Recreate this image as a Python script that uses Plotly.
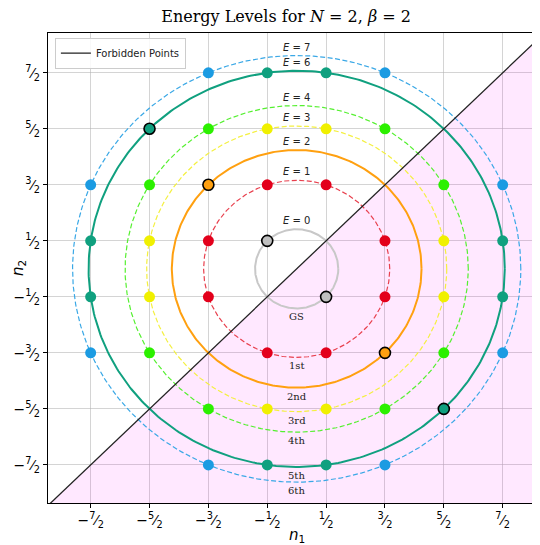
import numpy as np
import plotly.graph_objects as go

# energy levels (N=2, beta=2), radius^2 = 2E + 1/2
energies = [0, 1, 2, 3, 4, 6, 7]
state_names = ['GS', '1st', '2nd', '3rd', '4th', '5th', '6th']
point_colors = ['#c0c0c0', '#e3001b', '#ffa010', '#f0f000', '#2cf000', '#10a07f', '#1b9be2']
line_colors = ['#c8c8c8', '#e8404e', '#ffa010', '#f4f040', '#55f030', '#10a07f', '#3aa8e6']
line_dash = ['solid', 'dash', 'solid', 'dash', 'dash', 'solid', 'dash']
line_width = [2, 1.2, 2, 1.2, 1.2, 2, 1.2]

# allowed states (n1, n2) for each level
states = {
    0: [(-0.5, 0.5), (0.5, -0.5)],
    1: [(0.5, 1.5), (-0.5, 1.5), (0.5, -1.5), (-0.5, -1.5),
        (1.5, 0.5), (-1.5, 0.5), (1.5, -0.5), (-1.5, -0.5)],
    2: [(-1.5, 1.5), (1.5, -1.5)],
    3: [(0.5, 2.5), (-0.5, 2.5), (0.5, -2.5), (-0.5, -2.5),
        (2.5, 0.5), (-2.5, 0.5), (2.5, -0.5), (-2.5, -0.5)],
    4: [(1.5, 2.5), (-1.5, 2.5), (1.5, -2.5), (-1.5, -2.5),
        (2.5, 1.5), (-2.5, 1.5), (2.5, -1.5), (-2.5, -1.5)],
    6: [(0.5, 3.5), (-0.5, 3.5), (0.5, -3.5), (-0.5, -3.5),
        (3.5, 0.5), (-3.5, 0.5), (3.5, -0.5), (-3.5, -0.5),
        (-2.5, 2.5), (2.5, -2.5)],
    7: [(1.5, 3.5), (-1.5, 3.5), (1.5, -3.5), (-1.5, -3.5),
        (3.5, 1.5), (-3.5, 1.5), (3.5, -1.5), (-3.5, -1.5)],
}

tick_vals = [-3.5, -2.5, -1.5, -0.5, 0.5, 1.5, 2.5, 3.5]
tick_text = ['−<sup>7</sup>⁄<sub>2</sub>', '−<sup>5</sup>⁄<sub>2</sub>', '−<sup>3</sup>⁄<sub>2</sub>',
             '−<sup>1</sup>⁄<sub>2</sub>', '<sup>1</sup>⁄<sub>2</sub>', '<sup>3</sup>⁄<sub>2</sub>',
             '<sup>5</sup>⁄<sub>2</sub>', '<sup>7</sup>⁄<sub>2</sub>']

lim = 4.225

fig = go.Figure()

# forbidden region n2 < n1
fig.add_trace(go.Scatter(
    x=[-lim - 1, lim + 1, lim + 1], y=[-lim - 1, lim + 1, -lim - 1],
    fill='toself', fillcolor='rgba(255,0,255,0.09)', mode='none',
    showlegend=False, hoverinfo='skip'))

theta = np.linspace(0, 2 * np.pi, 400)
for i, E in enumerate(energies):
    r = np.sqrt(2 * E + 0.5)
    fig.add_trace(go.Scatter(
        x=r * np.cos(theta), y=r * np.sin(theta), mode='lines',
        line=dict(color=line_colors[i], width=line_width[i],
                  dash='5px,2.5px' if line_dash[i] == 'dash' else 'solid'),
        showlegend=False, hoverinfo='skip'))

fig.add_trace(go.Scatter(
    x=[-lim - 1, lim + 1], y=[-lim - 1, lim + 1], mode='lines',
    line=dict(color='#222222', width=1.3), name='Forbidden Points'))

for i, E in enumerate(energies):
    pts = states[E]
    n1 = [p[0] for p in pts]
    n2 = [p[1] for p in pts]
    edge = ['black' if a == -b else point_colors[i] for a, b in pts]
    ew = [1.6 if a == -b else 0 for a, b in pts]
    fig.add_trace(go.Scatter(
        x=n1, y=n2, mode='markers',
        marker=dict(size=11, color=point_colors[i], line=dict(color=edge, width=ew)),
        showlegend=False))
    r = np.sqrt(2 * E + 0.5)
    fig.add_annotation(x=0, y=r, text='<i>E</i> = %d' % E, showarrow=False,
                       yanchor='bottom', yshift=1, font=dict(family='DejaVu Sans', size=10, color='#222'))
    fig.add_annotation(x=0, y=-r, text=state_names[i], showarrow=False,
                       yanchor='top', yshift=-1, font=dict(family='DejaVu Serif', size=10, color='#222'))

# axis titles
fig.add_annotation(x=0, y=-0.07, xref='x', yref='paper', text='<i>n</i><sub>1</sub>',
                   xanchor='center', yanchor='middle',
                   showarrow=False, font=dict(family='DejaVu Sans', size=15, color='black'))
fig.add_annotation(x=0, y=0.5, xref='paper', yref='paper', xshift=-30, text='<i>n</i><sub>2</sub>',
                   xanchor='center', yanchor='middle',
                   textangle=-90, showarrow=False, font=dict(family='DejaVu Sans', size=15, color='black'))

axis_style = dict(
    tickvals=tick_vals, ticktext=tick_text, tickfont=dict(family='DejaVu Sans', size=14, color='black'),
    showgrid=True, gridcolor='rgba(176,176,176,0.55)', gridwidth=1, zeroline=False,
    showline=True, linecolor='black', linewidth=1.2, mirror=True, automargin=False,
    ticks='outside', ticklen=4, tickcolor='black')

fig.update_layout(
    width=540, height=545,
    margin=dict(l=40, r=8, t=25, b=50),
    plot_bgcolor='white', paper_bgcolor='white',
    title=dict(text='Energy Levels for <i>N</i> = 2, <i>β</i> = 2',
               font=dict(family='DejaVu Serif', size=16, color='black'),
               x=0.515, xanchor='center', y=0.984, yanchor='middle', automargin=False),
    xaxis=dict(range=[-lim, 4.134], **axis_style),
    yaxis=dict(range=[-4.18, 4.21], **axis_style),
    legend=dict(x=0.014, y=0.99, xanchor='left', yanchor='top',
                bgcolor='rgba(255,255,255,0.85)', bordercolor='#cccccc', borderwidth=1,
                font=dict(family='DejaVu Sans', size=10, color='#222')),
    showlegend=True,
)

fig.write_html("out.html")
